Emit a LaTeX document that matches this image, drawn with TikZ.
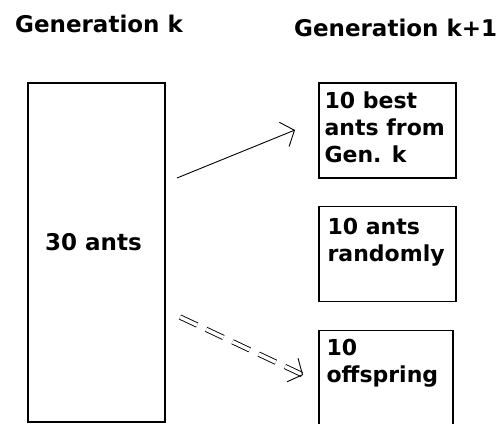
\documentclass[tikz,border=0pt]{standalone}
\usepackage{fontspec}
\setmainfont{DejaVu Sans}
\usetikzlibrary{arrows.meta, positioning}

\begin{document}
\begin{tikzpicture}[
    x=1pt, y=-1pt,
    node distance=27pt,
    every node/.style={
        inner sep=0pt,
        font=\bfseries\fontsize{22}{27}\selectfont
    },
    heading/.style={anchor=base west, font=\bfseries\fontsize{23}{27}\selectfont},
    genbox/.style={draw, line width=1.2pt, minimum width=137pt, minimum height=95pt},
    boxtext/.style={anchor=north west, align=left},
    arrow/.style={line width=0.9pt, -{Straight Barb[length=11pt, width=26pt]}},
    dblarrow/.style={arrow, double, double distance=3.5pt, dash pattern=on 19pt off 10pt}
]
\useasboundingbox (0,0) rectangle (500,423);

% ---------- HEADINGS
\node[heading] (headk) at (15,32) {Generation k};
\node[heading] (headnext) at (294,36) {Generation k+1};

% ---------- OLD GENERATION
\node[genbox, minimum height=339pt] (genk) at (96.5,252.5) {};
\node[heading] (ants) at (45,250) {30 ants};

% ---------- NEW GENERATION
\node[genbox] (best) at (387.5,130.5) {};
\node[genbox, below=of best] (random) {};
\node[genbox, below=28pt of random.south west, anchor=north west,
      minimum width=134pt, minimum height=120pt] (offspring) {};

\node[boxtext] (bestlbl) at ([shift={(6,9)}]best.north west) {10 best\\ants from\\Gen. k};
\node[boxtext] (randomlbl) at ([shift={(9,12)}]random.north west) {10 ants\\randomly};
\node[boxtext] (offspringlbl) at ([shift={(8,9)}]offspring.north west) {10\\offspring};

% ---------- ARROWS
\coordinate (bestfrom) at (177,178);
\coordinate (bestto) at (295,130);
\coordinate (offfrom) at (180,317);
\coordinate (offto) at (303,375);

\draw[arrow] (bestfrom) -- (bestto);
\draw[dblarrow] (offfrom) -- (offto);

\end{tikzpicture}
\end{document}
